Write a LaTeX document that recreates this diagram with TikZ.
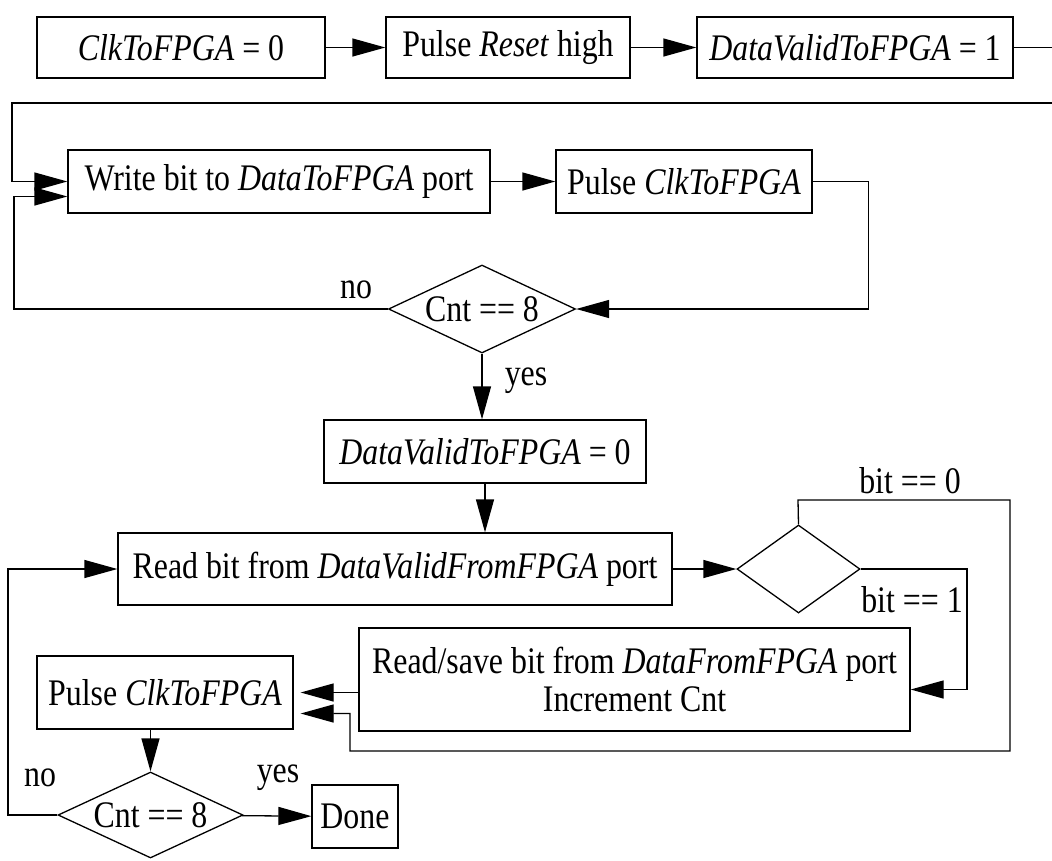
\documentclass[tikz,border=0pt]{standalone}
\usepackage{fontspec}
\setmainfont{Liberation Serif}[FakeStretch=0.85]
\usetikzlibrary{shapes.geometric, arrows.meta, positioning, calc}

\begin{document}
\begin{tikzpicture}[x=1pt, y=-1pt, line width=1.3pt,
  font=\fontsize{37.5}{38}\selectfont,
  stepbox/.style={draw, inner sep=0pt, align=center},
  decision/.style={draw, diamond, inner sep=0pt, aspect=2.1},
  flow/.style={-{Triangle[length=33pt, width=18pt]}}]
  \useasboundingbox (0,0) rectangle (1052,860);

  % Start-up row
  \node[stepbox, minimum width=288, minimum height=61] (clkzero) at (181,47.5) {\textit{ClkToFPGA} = 0};
  \node[stepbox, minimum width=244, minimum height=61] (reset) at (508,47.5) {Pulse \textit{Reset} high};
  \node[stepbox, minimum width=316, minimum height=61] (validone) at (855,47.5) {\textit{DataValidToFPGA} = 1};
  \coordinate (offout) at (1052,47.5);
  \coordinate (offin) at (1052,103);

  % Write loop
  \node[stepbox, minimum width=422, minimum height=63] (writebit) at (279,181.5) {Write bit to \textit{DataToFPGA} port};
  \node[stepbox, minimum width=256, minimum height=63] (pulsewr) at (684,181.5) {Pulse \textit{ClkToFPGA}};
  \node[decision, minimum width=187, minimum height=88] (cntwr) at (482,309) {Cnt == 8};
  \node (nowr) at (356,290) {no};
  \node (yeswr) at (526,381) {yes};
  \node[stepbox, minimum width=322, minimum height=63] (validzero) at (485,451.5) {\textit{DataValidToFPGA} = 0};

  \draw[flow] (clkzero) -- (reset);
  \draw[flow] (reset) -- (validone);
  \draw (validone) -- (offout);
  \draw[flow] (offin) -- (12,103) |- (writebit.west);
  \draw[flow] (writebit) -- (pulsewr);
  \draw[flow] (pulsewr.east) -- ++(56,0) |- (cntwr.east);
  \draw[flow] (cntwr.west) -- (14,309) |- ([yshift=-15pt]writebit.west);
  \draw[flow] (cntwr.south) -- (cntwr.south |- validzero.north);

  % Read loop
  \node[stepbox, minimum width=554, minimum height=72] (readbit) at (395,569) {Read bit from \textit{DataValidFromFPGA} port};
  \node[decision, minimum width=123, minimum height=88] (bittest) at (798.5,569) {};
  \node (bitzero) at (910,481) {bit == 0};
  \node (bitone) at (912,600) {bit == 1};
  \node[stepbox, minimum width=551, minimum height=103] (savebit) at (634.5,679.5) {Read/save bit from \textit{DataFromFPGA} port\\Increment Cnt};
  \node[stepbox, minimum width=256, minimum height=73] (pulserd) at (165,692.5) {Pulse \textit{ClkToFPGA}};
  \node[decision, minimum width=185, minimum height=86] (cntrd) at (150.5,815) {Cnt == 8};
  \node (nord) at (40,778) {no};
  \node (yesrd) at (278,778) {yes};
  \node[stepbox, minimum width=86, minimum height=63] (done) at (355,816.5) {Done};

  \draw[flow] (validzero.south) -- (validzero.south |- readbit.north);
  \draw[flow] (readbit) -- (bittest);
  \draw[flow] (bittest.north) -- (798,500) -| (1010,751) -- (350,751) |- ([yshift=-21pt, xshift=7pt]pulserd.east);
  \draw[flow] (bittest.east) -- (967,569) |- ([yshift=-10pt]savebit.east);
  \draw[flow] (savebit.west |- pulserd.east) -- ([xshift=7pt]pulserd.east);
  \draw[flow] (cntrd.north |- pulserd.south) -- (cntrd.north);
  \draw[flow] (cntrd) -- (done);
  \draw[flow] (cntrd.west) -- (8,815) |- (readbit.west);
\end{tikzpicture}
\end{document}
